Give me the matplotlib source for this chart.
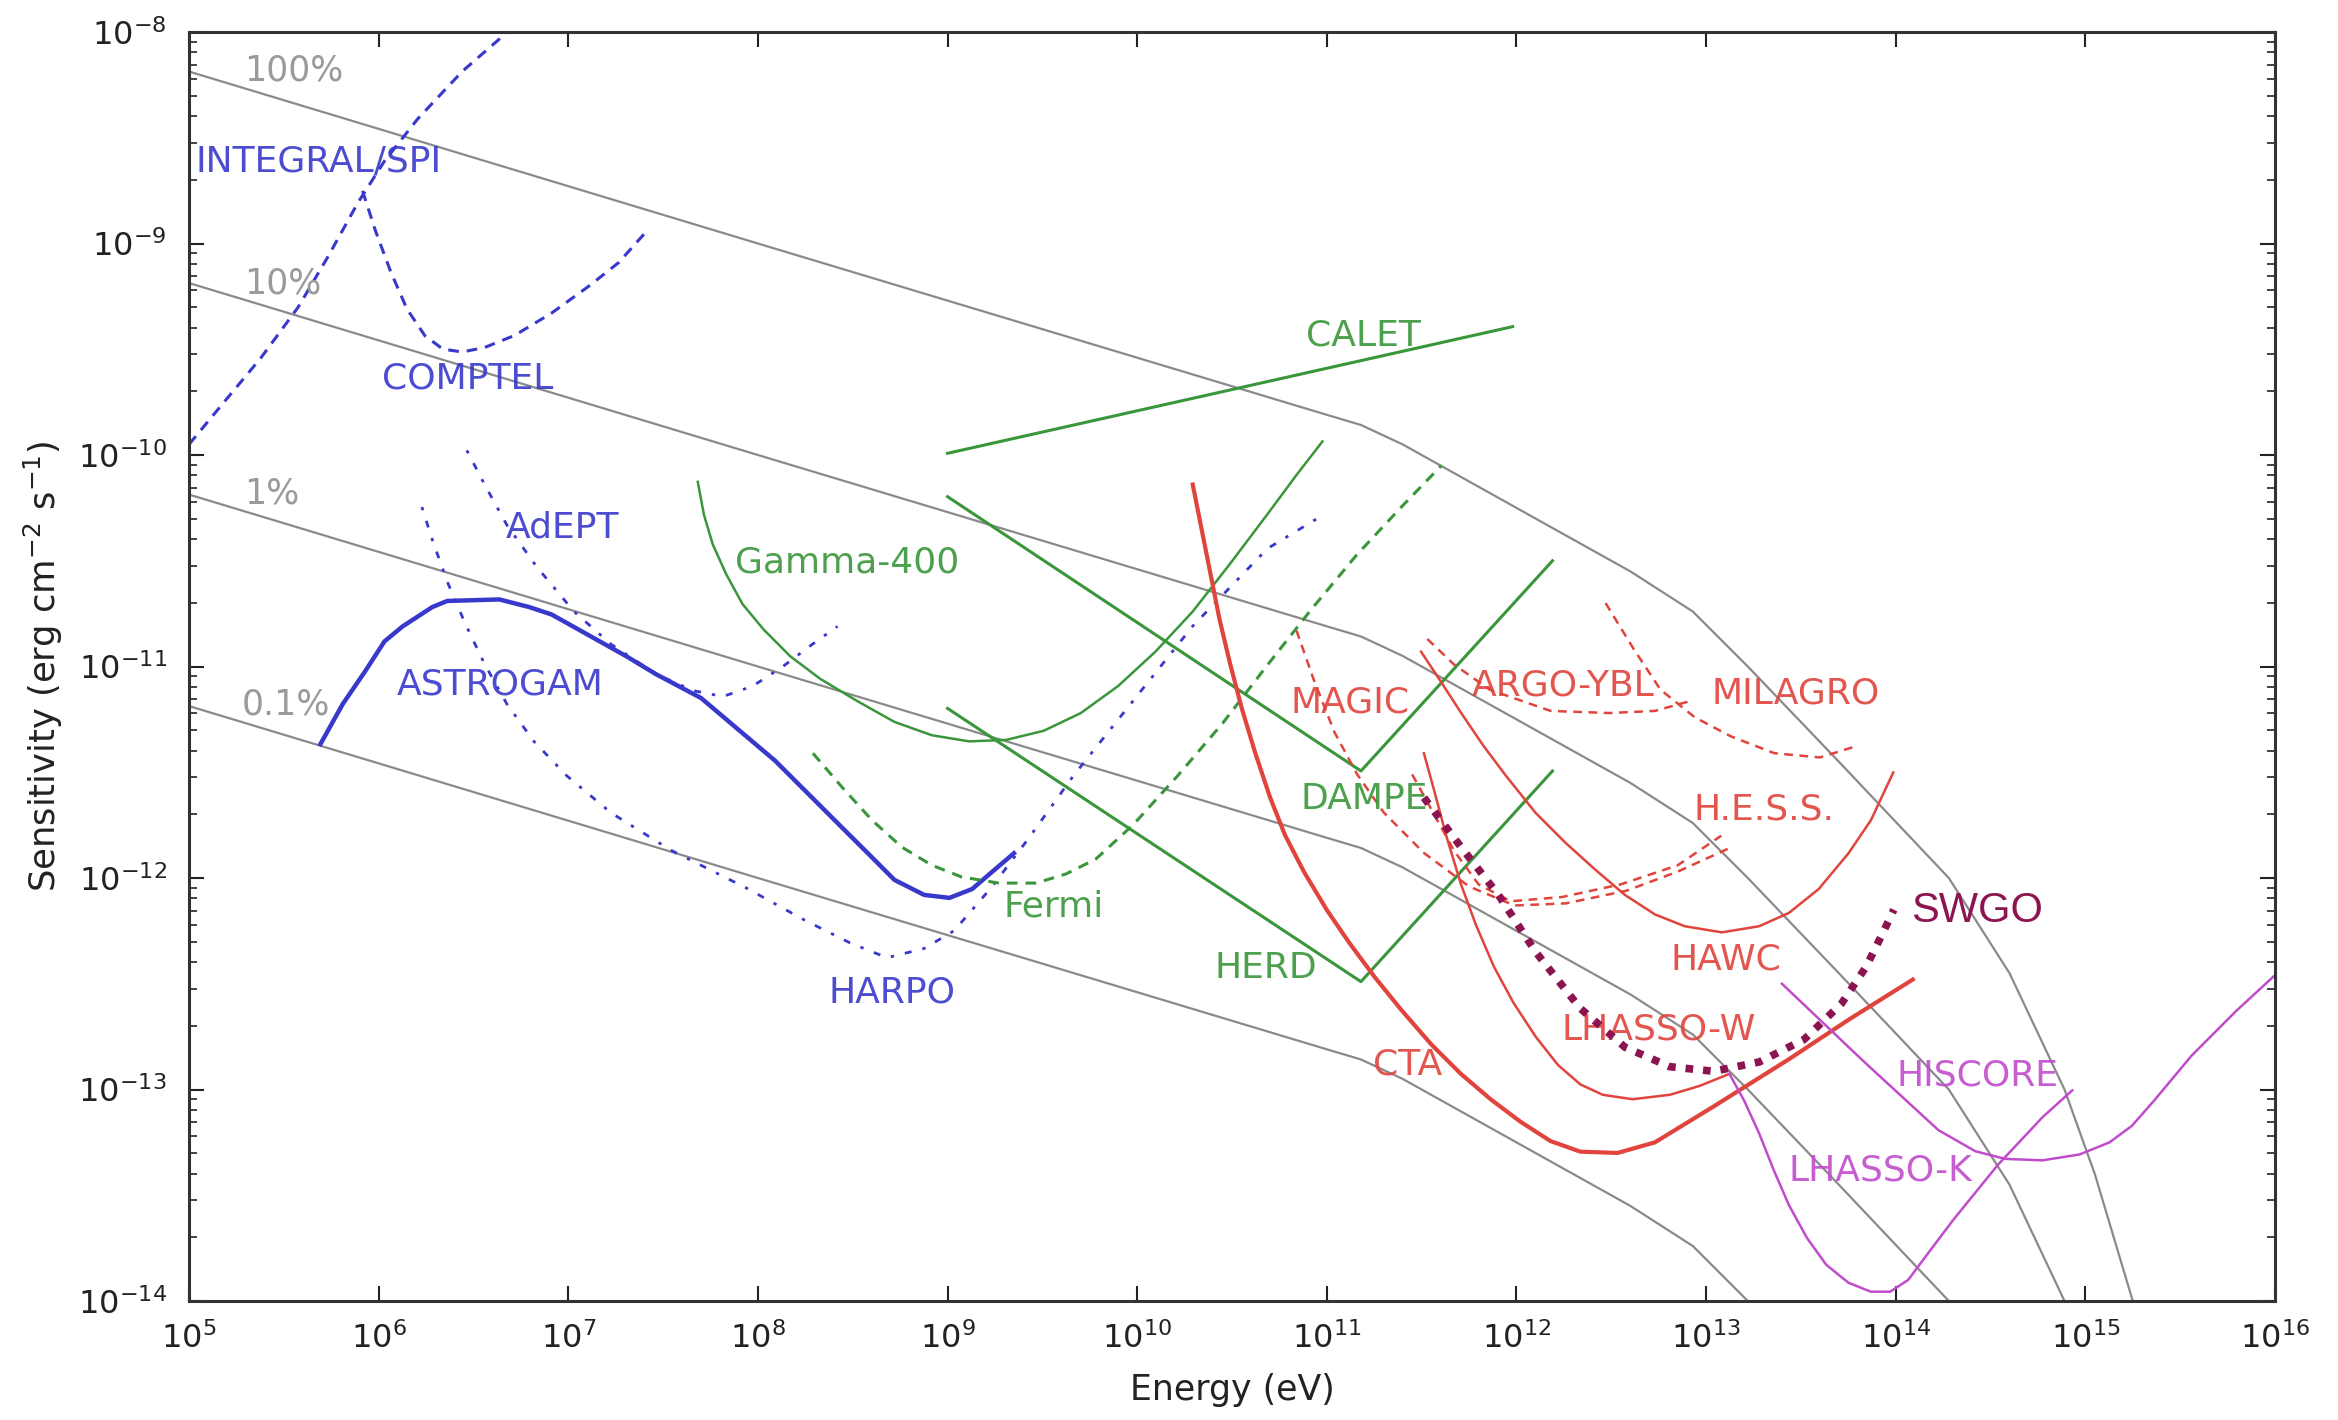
import matplotlib
matplotlib.use("Agg")
import matplotlib.pyplot as plt
import numpy as np
from matplotlib.ticker import FixedLocator, NullFormatter

plt.rcParams['font.family'] = ['DejaVu Sans']
plt.rcParams['axes.unicode_minus'] = False
plt.rcParams['mathtext.fontset'] = 'dejavusans'

# ---------------- data (log10 E [eV], log10 sensitivity [erg cm^-2 s^-1]) ----------------
crab_logE = [5.0, 8.0, 11.0, 11.18, 11.4, 12.0, 12.6, 12.93, 13.22, 13.7, 14.28, 14.6, 14.89, 15.05, 15.25, 15.4]
crab_logS = [-8.187, -9.0, -9.81, -9.858, -9.95, -10.25, -10.55, -10.74, -11.0, -11.45, -12.0, -12.45, -13.0, -13.4, -14.0, -14.5]
crab_fractions = [1.0, 0.1, 0.01, 0.001]
crab_labels = ['100%', '10%', '1%', '0.1%']
crab_label_logE = [5.29, 5.29, 5.29, 5.28]
crab_label_logS = [-8.18, -9.19, -10.18, -11.18]

integral_logE = [5.0, 5.182, 5.379, 5.575, 5.733, 5.89, 6.031, 6.204, 6.44, 6.692]
integral_logS = [-9.95, -9.753, -9.541, -9.302, -9.062, -8.808, -8.61, -8.413, -8.187, -7.99]

comptel_logE = [5.915, 5.984, 6.063, 6.149, 6.244, 6.338, 6.44, 6.558, 6.716, 6.912, 7.108, 7.266, 7.399]
comptel_logS = [-8.751, -8.942, -9.132, -9.309, -9.436, -9.499, -9.513, -9.492, -9.435, -9.329, -9.202, -9.09, -8.956]

adept_logE = [6.465, 6.559, 6.676, 6.833, 7.03, 7.226, 7.462, 7.658, 7.815, 7.972, 8.13, 8.287, 8.42]
adept_logS = [-9.978, -10.14, -10.331, -10.528, -10.74, -10.895, -11.036, -11.114, -11.142, -11.093, -11.001, -10.895, -10.81]

harpo_logE = [6.228, 6.283, 6.362, 6.456, 6.558, 6.676, 6.818, 6.991, 7.226, 7.54, 7.934, 8.248, 8.484, 8.681,
              8.877, 9.035, 9.231, 9.428, 9.664, 9.978, 10.292, 10.686, 10.985]
harpo_logS = [-10.246, -10.401, -10.599, -10.796, -10.987, -11.177, -11.353, -11.516, -11.692, -11.868, -12.045,
              -12.2, -12.306, -12.377, -12.333, -12.249, -12.045, -11.812, -11.516, -11.163, -10.81, -10.443, -10.281]

astrogam_logE = [5.693, 5.811, 5.93, 6.031, 6.127, 6.283, 6.362, 6.637, 6.794, 6.912, 7.305, 7.462, 7.70, 8.09,
                 8.366, 8.602, 8.72, 8.877, 9.01, 9.13, 9.231, 9.35]
astrogam_logS = [-11.367, -11.177, -11.021, -10.881, -10.81, -10.719, -10.69, -10.683, -10.719, -10.754, -10.951,
                 -11.036, -11.149, -11.445, -11.692, -11.903, -12.009, -12.08, -12.094, -12.052, -11.974, -11.883]

gamma400_logE = [7.683, 7.715, 7.762, 7.833, 7.919, 8.03, 8.171, 8.328, 8.525, 8.72, 8.917, 9.114, 9.31, 9.507,
                 9.703, 9.90, 10.096, 10.293, 10.49, 10.686, 10.843, 10.977]
gamma400_logS = [-10.127, -10.281, -10.423, -10.564, -10.705, -10.825, -10.952, -11.058, -11.164, -11.262, -11.325,
                 -11.354, -11.347, -11.304, -11.22, -11.092, -10.93, -10.74, -10.514, -10.281, -10.091, -9.936]

fermi_logE = [8.29, 8.445, 8.602, 8.759, 8.916, 9.074, 9.27, 9.467, 9.624, 9.781, 9.978, 10.214, 10.45, 10.686,
              10.922, 11.158, 11.393, 11.605]
fermi_logS = [-11.41, -11.572, -11.727, -11.854, -11.939, -11.995, -12.024, -12.024, -11.981, -11.911, -11.749,
              -11.516, -11.269, -10.994, -10.726, -10.472, -10.246, -10.049]

calet_logE = [9.0, 11.98]
calet_logS = [-9.992, -9.393]

dampe_logE = [9.0, 11.18, 12.19]
dampe_logS = [-10.197, -11.494, -10.50]

herd_logE = [9.0, 11.18, 12.19]
herd_logS = [-11.198, -12.49, -11.494]

cta_logE = [10.293, 10.34, 10.387, 10.434, 10.49, 10.552, 10.623, 10.702, 10.78, 10.882, 11.0, 11.118, 11.252,
            11.393, 11.55, 11.708, 11.865, 12.022, 12.18, 12.337, 12.533, 12.73, 13.04, 13.44, 13.75, 14.09]
cta_logS = [-10.14, -10.352, -10.564, -10.776, -10.987, -11.199, -11.41, -11.622, -11.798, -11.975, -12.151, -12.306,
            -12.468, -12.624, -12.786, -12.927, -13.047, -13.153, -13.244, -13.294, -13.30, -13.25, -13.08, -12.855,
            -12.671, -12.48]

lhaasow_logE = [11.512, 11.566, 11.629, 11.708, 11.786, 11.881, 11.983, 12.101, 12.219, 12.337, 12.455, 12.612,
                12.809, 12.966, 13.123]
lhaasow_logS = [-11.41, -11.586, -11.798, -12.031, -12.221, -12.419, -12.588, -12.75, -12.884, -12.976, -13.025,
                -13.046, -13.025, -12.983, -12.926]

hawc_logE = [11.497, 11.591, 11.708, 11.826, 11.944, 12.101, 12.258, 12.415, 12.572, 12.73, 12.887, 13.083, 13.28,
             13.437, 13.594, 13.751, 13.869, 13.987]
hawc_logS = [-10.93, -11.057, -11.219, -11.375, -11.516, -11.692, -11.833, -11.96, -12.08, -12.172, -12.228, -12.257,
             -12.228, -12.165, -12.052, -11.883, -11.727, -11.501]

magic_logE = [10.84, 10.93, 11.04, 11.16, 11.30, 11.51, 11.75, 11.99, 12.26, 12.58, 12.85, 13.12]
magic_logS = [-10.83, -11.06, -11.31, -11.51, -11.69, -11.88, -12.04, -12.13, -12.12, -12.06, -11.97, -11.86]

hess_logE = [11.45, 11.56, 11.67, 11.80, 11.97, 12.24, 12.55, 12.85, 13.08]
hess_logS = [-11.51, -11.69, -11.87, -12.03, -12.11, -12.09, -12.03, -11.94, -11.80]

argo_logE = [11.53, 11.67, 11.86, 12.18, 12.49, 12.73, 12.93]
argo_logS = [-10.87, -10.99, -11.11, -11.21, -11.22, -11.21, -11.16]

milagro_logE = [12.47, 12.62, 12.76, 12.94, 13.13, 13.36, 13.60, 13.78]
milagro_logS = [-10.70, -10.92, -11.11, -11.24, -11.33, -11.41, -11.43, -11.38]

lhaasok_logE = [13.123, 13.201, 13.28, 13.358, 13.437, 13.532, 13.634, 13.751, 13.869, 13.971, 14.066, 14.16,
                14.302, 14.538, 14.774, 14.931]
lhaasok_logS = [-12.926, -13.053, -13.208, -13.384, -13.547, -13.702, -13.829, -13.914, -13.956, -13.956, -13.9,
                -13.787, -13.618, -13.357, -13.131, -13.004]

hiscore_logE = [13.4, 13.832, 14.225, 14.42, 14.577, 14.774, 14.97, 15.127, 15.245, 15.363, 15.56, 15.796, 15.992]
hiscore_logS = [-12.50, -12.868, -13.192, -13.292, -13.328, -13.335, -13.307, -13.25, -13.172, -13.052, -12.84,
                -12.628, -12.466]

swgo_logE = [11.512, 11.708, 11.905, 12.10, 12.336, 12.572, 12.808, 13.04, 13.28, 13.516, 13.713, 13.845, 13.934, 13.99]
swgo_logS = [-11.62, -11.854, -12.08, -12.348, -12.616, -12.80, -12.892, -12.914, -12.87, -12.764, -12.595, -12.418,
             -12.256, -12.15]

label_names = ['INTEGRAL/SPI', 'COMPTEL', 'AdEPT', 'ASTROGAM', 'HARPO', 'Gamma-400', 'CALET', 'Fermi',
               'DAMPE', 'HERD', 'MAGIC', 'ARGO-YBL', 'MILAGRO', 'H.E.S.S.', 'HAWC', 'LHASSO-W', 'CTA',
               'HISCORE', 'LHASSO-K']
label_logE = [5.034, 6.016, 6.668, 6.094, 8.374, 7.879, 10.889, 9.293,
              10.86, 10.409, 10.81, 11.762, 13.03, 12.934, 12.81, 12.24, 11.244,
              14.003, 13.437]
label_logS = [-8.61, -9.64, -10.345, -11.085, -12.54, -10.507, -9.435, -12.136,
              -11.628, -12.425, -11.17, -11.092, -11.128, -11.678, -12.383, -12.714, -12.883,
              -12.932, -13.383]

x_tick_exponents = list(range(5, 17))
y_tick_exponents = list(range(-14, -7))

# ---------------- styling ----------------
BLUE = '#3838cc'
GREEN = '#3a963a'
RED = '#e0443c'
PURPLE = '#c04ccc'
GRAY = '#8a8a8a'
SWGO_C = '#8c1450'

label_colors = [BLUE, BLUE, BLUE, BLUE, BLUE, GREEN, GREEN, GREEN,
                GREEN, GREEN, RED, RED, RED, RED, RED, RED, RED, PURPLE, PURPLE]

DASH = (0, (3.5, 2.6))
DASHDOT = (0, (1.2, 4.0, 2.5, 4.0))

fig = plt.figure(figsize=(23.38, 14.2), dpi=100)
ax = fig.add_axes([189 / 2338, 1 - 1301 / 1420, (2275 - 189) / 2338, (1301 - 32) / 1420])


def P(lx, ly, **kw):
    ax.plot(10.0 ** np.asarray(lx), 10.0 ** np.asarray(ly), solid_joinstyle='round', **kw)


crab_E = 10.0 ** np.asarray(crab_logE)
crab_S = 10.0 ** np.asarray(crab_logS)
for f in crab_fractions:
    ax.plot(crab_E, crab_S * f, color=GRAY, lw=1.6, zorder=1)
for t, lx, ly in zip(crab_labels, crab_label_logE, crab_label_logS):
    ax.text(10 ** lx, 10 ** ly, t, color='#9a9a9a', fontsize=25, ha='left', va='center')

P(integral_logE, integral_logS, color=BLUE, lw=2.2, ls=DASH)
P(comptel_logE, comptel_logS, color=BLUE, lw=2.2, ls=DASH)
P(adept_logE, adept_logS, color=BLUE, lw=2.0, ls=DASHDOT)
P(harpo_logE, harpo_logS, color=BLUE, lw=2.0, ls=DASHDOT)
P(astrogam_logE, astrogam_logS, color=BLUE, lw=3.2)

P(gamma400_logE, gamma400_logS, color=GREEN, lw=1.8)
P(fermi_logE, fermi_logS, color=GREEN, lw=2.2, ls=DASH)
P(calet_logE, calet_logS, color=GREEN, lw=2.2)
P(dampe_logE, dampe_logS, color=GREEN, lw=2.2)
P(herd_logE, herd_logS, color=GREEN, lw=2.2)

P(cta_logE, cta_logS, color=RED, lw=3.0)
P(lhaasow_logE, lhaasow_logS, color=RED, lw=1.8)
P(hawc_logE, hawc_logS, color=RED, lw=1.8)
P(magic_logE, magic_logS, color=RED, lw=1.8, ls=DASH)
P(hess_logE, hess_logS, color=RED, lw=1.8, ls=DASH)
P(argo_logE, argo_logS, color=RED, lw=1.8, ls=DASH)
P(milagro_logE, milagro_logS, color=RED, lw=1.8, ls=DASH)

P(lhaasok_logE, lhaasok_logS, color=PURPLE, lw=1.8)
P(hiscore_logE, hiscore_logS, color=PURPLE, lw=1.8)

ax.plot(10.0 ** np.asarray(swgo_logE), 10.0 ** np.asarray(swgo_logS), color=SWGO_C, lw=5.5,
        ls=(0, (1, 1.3)), dash_capstyle='butt', zorder=5)

for t, lx, ly, c in zip(label_names, label_logE, label_logS, label_colors):
    ax.text(10 ** lx, 10 ** ly, t, color=c, fontsize=26, ha='left', va='center', alpha=0.9)
ax.text(10 ** 14.082, 10 ** -12.157, 'SWGO', color=SWGO_C, fontsize=30,
        family=['Liberation Sans', 'DejaVu Sans'], ha='left', va='center')

ax.set_xscale('log')
ax.set_yscale('log')
ax.set_xlim(1e5, 1e16)
ax.set_ylim(1e-14, 1e-8)
ax.xaxis.set_major_locator(FixedLocator([10.0 ** e for e in x_tick_exponents]))
ax.xaxis.set_minor_locator(FixedLocator([]))
ax.yaxis.set_major_locator(FixedLocator([10.0 ** e for e in y_tick_exponents]))
ax.yaxis.set_minor_locator(FixedLocator([m * 10.0 ** e for e in y_tick_exponents[:-1] for m in range(2, 10)]))
ax.yaxis.set_minor_formatter(NullFormatter())
ax.xaxis.set_minor_formatter(NullFormatter())
ax.tick_params(which='both', direction='in', top=True, right=True, colors='#222222')
ax.tick_params(axis='x', which='major', length=11, width=1.5, labelsize=23, pad=15)
ax.tick_params(axis='y', which='major', length=11, width=1.5, labelsize=23, pad=16)
ax.tick_params(which='minor', length=6, width=1.2)
for s in ax.spines.values():
    s.set_linewidth(2.2)
    s.set_color('#333333')

ax.set_xlabel('Energy (eV)', fontsize=25, labelpad=13, color='#222222')
ax.set_ylabel('Sensitivity (erg cm$^{-2}$ s$^{-1}$)', fontsize=25.5, labelpad=9, color='#222222')

fig.savefig('out.png', dpi=100, facecolor='white')
